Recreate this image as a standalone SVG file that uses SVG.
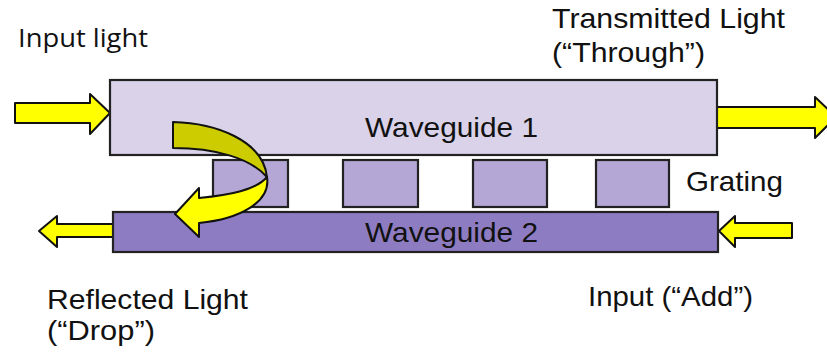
<svg xmlns="http://www.w3.org/2000/svg" width="827" height="352" viewBox="0 0 827 352">
<style>
.box{stroke:#222;stroke-width:2.2}
.wg1{fill:#D9D2E9}
.gr{fill:#B4A7D6}
.wg2{fill:#8E7CC3}
.arr{fill:#FFFF00;stroke:#111;stroke-width:2;stroke-linejoin:round}
.dark{fill:#CCCC00;stroke:#111;stroke-width:2;stroke-linejoin:round}
.t{font-family:"Liberation Sans",Arial,sans-serif;font-size:28px;fill:#111}
.t2{font-family:"Open Sans","Noto Sans",sans-serif;font-size:26px;fill:#111}
</style>
<rect width="827" height="352" fill="#fff"/>
<g id="connectors">
<polygon class="arr" points="15,103 90,103 90,94 110,113 90,134 90,123 15,123"/>
<polygon class="arr" points="717,107 815,107 815,97 836,117 815,138 815,128 717,128"/>
<polygon class="arr" points="113,224 57,224 57,216 39,231 57,247 57,237 113,237"/>
<polygon class="arr" points="792,223 735,223 735,216 719,231 735,247 735,238 792,238 792,223"/>
</g>
<g id="waveguide1"><rect class="box wg1" x="110" y="80" width="607" height="75"/>
<text class="t" x="365" y="137" textLength="173" lengthAdjust="spacingAndGlyphs">Waveguide 1</text></g>
<g id="grating">
<rect class="box gr" x="213" y="160" width="75" height="47"/>
<rect class="box gr" x="343" y="160" width="75" height="47"/>
<rect class="box gr" x="473" y="160" width="74" height="47"/>
<rect class="box gr" x="596" y="160" width="73" height="47"/>
</g>
<g id="waveguide2"><rect class="box wg2" x="113" y="212" width="605" height="40"/>
<text class="t" x="365" y="242" textLength="173" lengthAdjust="spacingAndGlyphs">Waveguide 2</text></g>
<g id="reflection">
<path class="dark" d="M173,122 C215,123 263,140 267,177 C250,158 215,148 173,148 Z"/>
<path class="arr" d="M267,177 C271,202 240,219 199,223 L199,237 L175,214 L199,188 L199,198 C230,195 256,190 267,177 Z"/>
</g>
<g id="labels">
<text class="t2" x="18" y="47" textLength="130" lengthAdjust="spacingAndGlyphs">Input light</text>
<text class="t" x="552" y="28" textLength="233" lengthAdjust="spacingAndGlyphs">Transmitted Light</text>
<text class="t" x="552" y="62" textLength="153" lengthAdjust="spacingAndGlyphs">(“Through”)</text>
<text class="t" x="686" y="191" textLength="97" lengthAdjust="spacingAndGlyphs">Grating</text>
<text class="t" x="47" y="309" textLength="201" lengthAdjust="spacingAndGlyphs">Reflected Light</text>
<text class="t" x="47" y="340" textLength="108" lengthAdjust="spacingAndGlyphs">(“Drop”)</text>
<text class="t" x="588" y="306" textLength="165" lengthAdjust="spacingAndGlyphs">Input (“Add”)</text>
</g>
</svg>
